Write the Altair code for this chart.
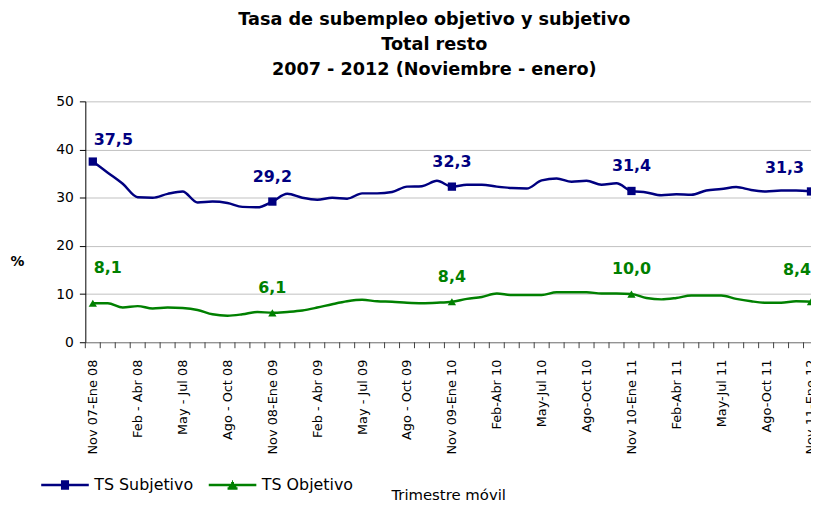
import json
import altair as alt
import pandas as pd

# ---- data ----
tick_labels = ["Nov 07-Ene 08", "Feb - Abr 08", "May - Jul 08", "Ago - Oct 08",
               "Nov 08-Ene 09", "Feb - Abr 09", "May - Jul 09", "Ago - Oct 09",
               "Nov 09-Ene 10", "Feb-Abr 10", "May-Jul 10", "Ago-Oct 10",
               "Nov 10-Ene 11", "Feb-Abr 11", "May-Jul 11", "Ago-Oct 11",
               "Nov 11-Ene 12"]

subjetivo = [37.5, 35.2, 32.9, 30.1, 30.0, 30.8, 31.3, 29.0, 29.2, 28.9, 28.1, 28.0,
             29.2, 30.8, 30.0, 29.6, 30.0, 29.8, 30.9, 30.9, 31.2, 32.3, 32.4, 33.5,
             32.3, 32.7, 32.7, 32.3, 32.0, 31.9, 33.6, 34.0, 33.3, 33.5, 32.7, 33.0,
             31.4, 31.1, 30.5, 30.7, 30.6, 31.5, 31.8, 32.2, 31.6, 31.3, 31.5, 31.5,
             31.3]
objetivo = [8.1, 8.1, 7.2, 7.5, 7.0, 7.2, 7.1, 6.7, 5.8, 5.5, 5.8, 6.3,
            6.1, 6.3, 6.6, 7.2, 7.9, 8.5, 8.8, 8.5, 8.4, 8.2, 8.1, 8.2,
            8.4, 9.0, 9.4, 10.1, 9.8, 9.8, 9.8, 10.4, 10.4, 10.4, 10.1, 10.1,
            10.0, 9.2, 8.9, 9.2, 9.7, 9.7, 9.7, 9.0, 8.5, 8.2, 8.2, 8.5,
            8.4]
series_names = ["TS Subjetivo", "TS Objetivo"]
series_colors = ["#000080", "#008000"]
marker_shapes = ["square", "triangle-up"]
marked_points = [0, 12, 24, 36, 48]

n = len(subjetivo)
rows = []
for name, vals in zip(series_names, [subjetivo, objetivo]):
    for i, v in enumerate(vals):
        rows.append({"idx": i, "serie": name, "valor": v,
                     "lab": f"{v:.1f}".replace(".", ",")})
df = pd.DataFrame(rows)

# monthly tick marks sit between consecutive points
bordes = pd.DataFrame({"borde": [i - 0.5 for i in range(n)]})

label_values = list(range(0, n, 3))
label_expr = json.dumps(dict(zip([str(v) for v in label_values], tick_labels)),
                        ensure_ascii=False) + "[datum.value]"

FONT = "DejaVu Sans"

x_enc = alt.X("idx:Q",
              scale=alt.Scale(domain=[-0.5, n - 1], nice=False, zero=False),
              axis=alt.Axis(values=label_values, labelExpr=label_expr,
                            labelAngle=270, labelFont=FONT, labelFontSize=13,
                            labelColor="black", labelOverlap=False, labelFlush=False,
                            ticks=False, domainColor="#808080",
                            labelPadding=17, grid=False,
                            title="Trimestre móvil", titleFont=FONT, titleFontSize=15,
                            titleFontWeight="normal", titleColor="black",
                            titleY=154, titleBaseline="middle"))
y_enc = alt.Y("valor:Q",
              scale=alt.Scale(domain=[0, 50], nice=False),
              axis=alt.Axis(values=[0, 10, 20, 30, 40, 50], labelFont=FONT,
                            labelFontSize=14, labelColor="black", labelPadding=6,
                            tickSize=6, tickColor="black", domainColor="black",
                            gridColor="#c0c0c0", grid=True,
                            title="%", titleAngle=0, titleFont=FONT, titleFontSize=14,
                            titleFontWeight="bold", titleColor="black",
                            titleX=-69, titleY=162, titleAlign="center",
                            titleBaseline="middle"))

# legend symbols: a line with the series marker in its middle (drawn with strokes)
legend_paths = [
    "M-1,0H1"
    "M-0.17,-0.15H0.17M-0.17,-0.075H0.17M-0.17,0H0.17"
    "M-0.17,0.075H0.17M-0.17,0.15H0.17",
    "M-1,0H1"
    "M-0.21,0.15H0.21M-0.16,0.075H0.16M-0.11,0H0.11"
    "M-0.06,-0.075H0.06M-0.02,-0.15H0.02",
]

base = alt.Chart(df)
layers = []
for k, (name, col, shp) in enumerate(zip(series_names, series_colors, marker_shapes)):
    sdata = base.transform_filter(alt.datum.serie == name)
    layers.append(sdata.mark_line(interpolate="monotone", strokeWidth=2.5,
                                  color=col).encode(
        x=x_enc if k == 0 else "idx:Q", y=y_enc if k == 0 else "valor:Q"))
    pdata = sdata.transform_filter(
        alt.FieldOneOfPredicate(field="idx", oneOf=marked_points))
    layers.append(pdata.mark_point(filled=True, opacity=1, size=70, shape=shp,
                                   color=col).encode(x="idx:Q", y="valor:Q"))

    def lab(cond, align, dx, dy):
        return pdata.transform_filter(cond).mark_text(
            font=FONT, fontSize=16, fontWeight="bold", align=align,
            baseline="middle", dx=dx, dy=dy, color=col).encode(
            x="idx:Q", y="valor:Q", text="lab:N")

    first = alt.datum.idx == 0
    last = alt.datum.idx == n - 1
    mid = (alt.datum.idx > 0) & (alt.datum.idx < n - 1)
    if k == 0:
        layers += [lab(first, "left", 1, -22), lab(mid, "center", 0, -25),
                   lab(last, "right", -7, -24)]
    else:
        layers += [lab(first, "left", 1, -35), lab(mid, "center", 0, -25),
                   lab(last, "right", 0, -32)]

# monthly ticks on the category axis
ticks = alt.Chart(bordes).mark_rule(color="#404040", strokeWidth=1).encode(
    x="borde:Q", y=alt.value(243), y2=alt.value(249))
layers.append(ticks)

# invisible layer that only produces the legend
legend_layer = base.mark_point(opacity=0, size=10, filled=False).encode(
    x="idx:Q", y="valor:Q",
    stroke=alt.Stroke("serie:N", scale=alt.Scale(domain=series_names,
                                                 range=series_colors),
                      sort=series_names,
                      legend=alt.Legend(orient="none", legendX=-46, legendY=361,
                                        direction="horizontal", title=None,
                                        symbolSize=2304, symbolStrokeWidth=2.5,
                                        symbolOpacity=1,
                                        labelFont=FONT, labelFontSize=16,
                                        labelColor="black", labelOffset=4,
                                        columnPadding=10, padding=0)),
    shape=alt.Shape("serie:N", scale=alt.Scale(domain=series_names,
                                               range=legend_paths),
                    sort=series_names),
)
layers.append(legend_layer)

chart = alt.layer(*layers).properties(
    width=732, height=243,
    autosize=alt.AutoSizeParams(type="none"),
    padding={"left": 78, "top": 92, "right": 0, "bottom": 162},
    title=alt.TitleParams(
        text=["Tasa de subempleo objetivo y subjetivo", "Total resto",
              "2007 - 2012 (Noviembre - enero)"],
        font=FONT, fontSize=17.8, fontWeight="bold", color="black",
        lineHeight=25, anchor="middle", dx=-14, offset=16),
).configure_view(stroke=None)

chart.save("out.html", embed_options={"renderer": "svg", "actions": False})
